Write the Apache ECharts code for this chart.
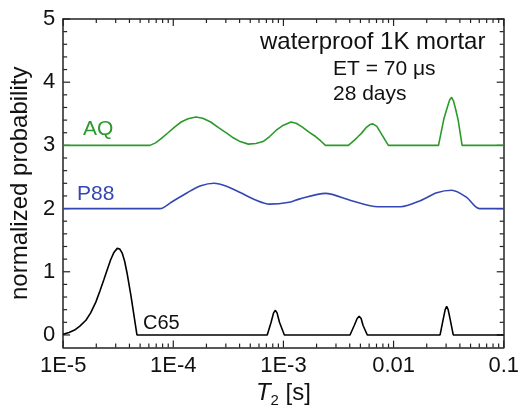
<!DOCTYPE html>
<html>
<head>
<meta charset="utf-8">
<script src="https://cdn.jsdelivr.net/npm/echarts@6/dist/echarts.min.js"></script>
<style>
  html, body { margin: 0; padding: 0; background: #fff; }
  #chart { width: 522px; height: 413px; }
</style>
</head>
<body>
<div id="chart"></div>
<script>
// T2 [s] and normalized probability (curves shifted by 3, 2, 0)
var aqT = [1e-5, 6.14e-5, 6.91e-5, 7.81e-5, 8.97e-5, 1.027e-4, 1.179e-4, 1.361e-4, 1.605e-4, 1.853e-4, 2.184e-4, 2.574e-4, 3.079e-4, 3.504e-4, 4.046e-4, 4.80e-4, 5.623e-4, 6.534e-4, 7.499e-4, 8.605e-4, 1.0e-3, 1.172e-3, 1.306e-3, 1.487e-3, 1.707e-3, 1.959e-3, 2.184e-3, 2.406e-3,
  3.885e-3, 4.393e-3, 4.771e-3, 5.105e-3, 5.623e-3, 6.104e-3, 6.494e-3, 7.05e-3, 7.702e-3, 8.97e-3,
  2.559e-2, 2.871e-2, 3.098e-2, 3.228e-2, 3.363e-2, 3.504e-2, 3.652e-2, 3.861e-2, 4.19e-2, 0.1];
var aqP = [3, 3, 3.04, 3.11, 3.20, 3.29, 3.37, 3.42, 3.45, 3.43, 3.37, 3.28, 3.19, 3.12, 3.06, 3.02, 3.03, 3.06, 3.14, 3.24, 3.32, 3.37, 3.35, 3.29, 3.21, 3.14, 3.07, 3.0,
  3.0, 3.08, 3.14, 3.19, 3.28, 3.33, 3.34, 3.30, 3.19, 3.0,
  3.0, 3.43, 3.62, 3.72, 3.76, 3.70, 3.58, 3.40, 3.0, 3.0];

var p88T = [1e-5, 7.55e-5, 9.59e-5, 1.35e-4, 1.78e-4, 2.34e-4, 3.08e-4, 4.05e-4, 5.51e-4, 7.50e-4, 1.13e-3, 1.39e-3, 2.40e-3, 4.16e-3, 7.19e-3, 1.16e-2, 1.75e-2, 2.47e-2, 3.37e-2, 4.58e-2, 6.01e-2, 0.1];
var p88P = [2, 2, 2.10, 2.255, 2.36, 2.40, 2.35, 2.255, 2.14, 2.07, 2.10, 2.15, 2.24, 2.125, 2.03, 2.03, 2.125, 2.25, 2.29, 2.18, 2.0, 2.0];

var c65T = [1e-5, 1.131e-5, 1.27e-5, 1.418e-5, 1.61e-5, 1.778e-5, 1.98e-5, 2.162e-5, 2.35e-5, 2.522e-5, 2.70e-5, 2.90e-5, 3.10e-5, 3.262e-5, 3.43e-5, 3.614e-5, 3.80e-5, 4.13e-5, 4.68e-5,
  7.13e-4, 7.73e-4, 8.14e-4, 8.45e-4, 8.75e-4, 9.21e-4, 1.02e-3,
  4.023e-3, 4.393e-3, 4.673e-3, 4.87e-3, 5.075e-3, 5.287e-3, 5.777e-3,
  2.644e-2, 2.824e-2, 2.943e-2, 3.035e-2, 3.13e-2, 3.262e-2, 3.483e-2, 0.1];
var c65P = [0.01, 0.04, 0.078, 0.14, 0.233, 0.35, 0.52, 0.70, 0.88, 1.04, 1.19, 1.31, 1.37, 1.36, 1.30, 1.17, 0.985, 0.62, 0,
  0, 0.2, 0.35, 0.39, 0.35, 0.2, 0,
  0, 0.15, 0.26, 0.295, 0.26, 0.15, 0,
  0, 0.25, 0.40, 0.455, 0.40, 0.25, 0, 0];

// axis ticks
var xDecades = [1e-5, 1e-4, 1e-3, 1e-2, 1e-1];
var xTickLabels = ['1E-5', '1E-4', '1E-3', '0.01', '0.1'];
var xMinorMult = [2, 3, 4, 5, 6, 7, 8, 9];
var yMajor = [0, 1, 2, 3, 4, 5];
var yMinor = [0.2, 0.4, 0.6, 0.8, 1.2, 1.4, 1.6, 1.8, 2.2, 2.4, 2.6, 2.8, 3.2, 3.4, 3.6, 3.8, 4.2, 4.4, 4.6, 4.8];

function zip(a, b) {
  return a.map(function (v, i) { return [v, b[i]]; });
}

var xTickData = [];
xDecades.forEach(function (d, i) {
  xTickData.push([d, 0, 7]);
  if (i < xDecades.length - 1) {
    xMinorMult.forEach(function (m) { xTickData.push([d * m, 0, 4]); });
  }
});
var yTickData = yMajor.map(function (v) { return [1e-3, v, 7]; })
  .concat(yMinor.map(function (v) { return [1e-3, v, 4]; }));

var frameColor = '#222';
var font = 'Liberation Sans';
var green = '#2a9a2a';
var blue = '#3446b4';

var chart = echarts.init(document.getElementById('chart'));

chart.setOption({
  animation: false,
  textStyle: { fontFamily: font },
  grid: { left: 60, right: 14, top: 19, bottom: 60 },
  xAxis: [
    {
      type: 'log',
      logBase: 10,
      min: 1e-5,
      max: 0.1,
      position: 'bottom',
      axisLine: { onZero: false, lineStyle: { color: frameColor, width: 1.5 } },
      axisTick: { show: false },
      splitLine: { show: false },
      axisLabel: {
        color: '#111',
        fontSize: 22,
        margin: 7,
        fontFamily: font,
        formatter: function (v) {
          var i = Math.round(Math.log10(v)) + 5;
          return xTickLabels[i] || '';
        }
      },
      name: '{it|T}{sub|2}{n| [s]}',
      nameLocation: 'middle',
      nameGap: 19,
      nameTextStyle: {
        rich: {
          it: { fontSize: 24, fontStyle: 'italic', fontFamily: font, color: '#111' },
          sub: { fontSize: 15, fontFamily: font, color: '#111', padding: [14, 0, 0, 0] },
          n: { fontSize: 24, fontFamily: font, color: '#111' }
        }
      }
    },
    {
      type: 'log',
      logBase: 10,
      min: 1e-5,
      max: 0.1,
      position: 'top',
      axisLine: { onZero: false, lineStyle: { color: frameColor, width: 1.5 } },
      axisTick: { show: false },
      axisLabel: { show: false },
      splitLine: { show: false }
    }
  ],
  yAxis: [
    {
      type: 'value',
      min: -0.2,
      max: 5,
      interval: 0.2,
      position: 'left',
      axisLine: { show: true, onZero: false, lineStyle: { color: frameColor, width: 1.5 } },
      axisTick: { show: false },
      splitLine: { show: false },
      axisLabel: {
        color: '#111',
        fontSize: 22,
        margin: 8,
        fontFamily: font,
        formatter: function (v) {
          return Math.abs(v - Math.round(v)) < 1e-6 && v > -0.1 ? String(Math.round(v)) : '';
        }
      },
      name: 'normalized probability',
      nameLocation: 'middle',
      nameGap: 30,
      nameTextStyle: { fontSize: 24, color: '#111', fontFamily: font }
    },
    {
      type: 'value',
      min: -0.2,
      max: 5,
      interval: 0.2,
      position: 'right',
      axisLine: { show: true, onZero: false, lineStyle: { color: frameColor, width: 1.5 } },
      axisTick: { show: false },
      axisLabel: { show: false },
      splitLine: { show: false }
    }
  ],
  series: [
    {
      name: 'AQ',
      type: 'line',
      data: zip(aqT, aqP),
      showSymbol: false,
      lineStyle: { color: green, width: 1.6 },
      itemStyle: { color: green }
    },
    {
      name: 'P88',
      type: 'line',
      data: zip(p88T, p88P),
      showSymbol: false,
      smooth: 0.3,
      lineStyle: { color: blue, width: 1.6 },
      itemStyle: { color: blue }
    },
    {
      name: 'C65',
      type: 'line',
      data: zip(c65T, c65P),
      showSymbol: false,
      lineStyle: { color: '#000', width: 1.6 },
      itemStyle: { color: '#000' }
    },
    {
      // x ticks, inside, bottom and top
      type: 'custom',
      data: xTickData,
      silent: true,
      renderItem: function (params, api) {
        var cs = params.coordSys;
        var px = api.coord([api.value(0), 0])[0];
        var len = api.value(2);
        var st = { stroke: frameColor, lineWidth: 1.2 };
        return {
          type: 'group',
          children: [
            { type: 'line', shape: { x1: px, y1: cs.y + cs.height, x2: px, y2: cs.y + cs.height - len }, style: st },
            { type: 'line', shape: { x1: px, y1: cs.y, x2: px, y2: cs.y + len }, style: st }
          ]
        };
      }
    },
    {
      // y ticks, inside, left and right
      type: 'custom',
      data: yTickData,
      silent: true,
      renderItem: function (params, api) {
        var cs = params.coordSys;
        var py = api.coord([api.value(0), api.value(1)])[1];
        var len = api.value(2);
        var st = { stroke: frameColor, lineWidth: 1.2 };
        return {
          type: 'group',
          children: [
            { type: 'line', shape: { x1: cs.x, y1: py, x2: cs.x + len, y2: py }, style: st },
            { type: 'line', shape: { x1: cs.x + cs.width, y1: py, x2: cs.x + cs.width - len, y2: py }, style: st }
          ]
        };
      }
    }
  ],
  graphic: [
    { type: 'text', left: 83, top: 119, style: { text: 'AQ', fontSize: 21, fontFamily: font, fill: green } },
    { type: 'text', left: 77, top: 184, style: { text: 'P88', fontSize: 21, fontFamily: font, fill: blue } },
    { type: 'text', left: 143, top: 313, style: { text: 'C65', fontSize: 20, fontFamily: font, fill: '#111' } },
    { type: 'text', left: 260, top: 30, style: { text: 'waterproof 1K mortar', fontSize: 24, fontFamily: font, fill: '#111' } },
    { type: 'text', left: 333, top: 59, style: { text: 'ET = 70 \u03bcs', fontSize: 21, fontFamily: font, fill: '#111' } },
    { type: 'text', left: 333, top: 84, style: { text: '28 days', fontSize: 21, fontFamily: font, fill: '#111' } }
  ]
});
</script>
</body>
</html>
